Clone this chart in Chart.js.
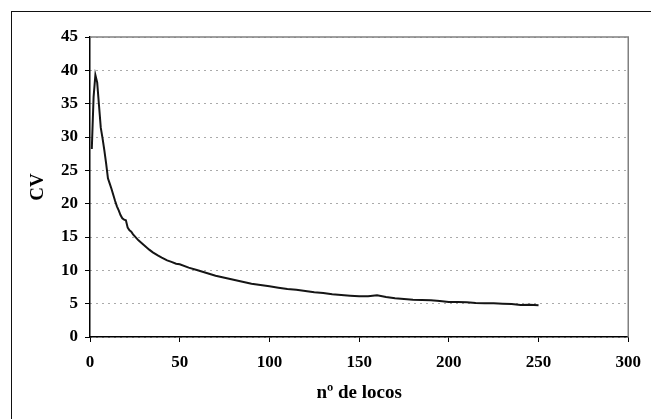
<!DOCTYPE html>
<html>
<head>
<meta charset="utf-8">
<script src="https://cdn.jsdelivr.net/npm/chart.js@4/dist/chart.umd.min.js"></script>
<style>
  body { margin: 0; background: #fff; }
  #wrap { position: relative; width: 651px; height: 419px; overflow: hidden; }
  #frame { position: absolute; left: 11px; top: 11px; width: 700px; height: 500px;
           border-left: 1.5px solid #111; border-top: 1.5px solid #111; }
  #grafico { position: absolute; left: 0; top: 0; }
</style>
</head>
<body>
<div id="wrap">
  <div id="frame"></div>
  <canvas id="grafico" width="651" height="419"></canvas>
</div>
<script>
// nº de locos (eje x) y coeficiente de variación (eje y)
var locos = [1, 2, 3, 4, 5, 6, 7, 8, 9, 10, 11, 12, 13, 14, 15, 16, 17, 18, 19, 20,
             21, 22, 23, 24, 25, 27, 30, 33, 35, 38, 40, 43, 45, 48, 50, 55, 60, 65, 70, 75,
             80, 85, 90, 95, 100, 105, 110, 115, 120, 125, 130, 135, 140, 145, 150, 155, 160, 165, 170, 175,
             180, 185, 190, 195, 200, 205, 210, 215, 220, 225, 230, 235, 240, 245, 250];
var cv = [28.2, 36.0, 39.3, 38.2, 34.8, 31.4, 29.8, 28.0, 26.0, 23.8, 23.0, 22.2, 21.3, 20.4, 19.6, 19.0, 18.3, 17.8, 17.6, 17.5,
          16.4, 16.0, 15.8, 15.4, 15.1, 14.5, 13.8, 13.1, 12.7, 12.2, 11.9, 11.5, 11.3, 11.0, 10.9, 10.4, 10.0, 9.6, 9.2, 8.9,
          8.6, 8.3, 8.0, 7.8, 7.6, 7.4, 7.2, 7.1, 6.9, 6.7, 6.6, 6.4, 6.3, 6.2, 6.1, 6.1, 6.25, 6.0, 5.8, 5.7,
          5.6, 5.55, 5.5, 5.4, 5.25, 5.25, 5.2, 5.1, 5.05, 5.05, 5.0, 4.95, 4.8, 4.85, 4.75];
var ejeX = { min: 0, max: 300, paso: 50 };
var ejeY = { min: 0, max: 45, paso: 5 };

var puntos = [];
for (var i = 0; i < locos.length; i++) {
    puntos.push({ x: locos[i], y: cv[i] });
}

// borde gris arriba y a la derecha del área de trazado
var bordeArea = {
    id: 'bordeArea',
    afterDraw: function (chart) {
        var a = chart.chartArea, ctx = chart.ctx;
        ctx.save();
        ctx.strokeStyle = '#808080';
        ctx.lineWidth = 1.5;
        ctx.beginPath();
        ctx.moveTo(a.left, a.top);
        ctx.lineTo(a.right, a.top);
        ctx.lineTo(a.right, a.bottom);
        ctx.stroke();
        ctx.restore();
    }
};

var fuente = 'Liberation Serif';
var ctx = document.getElementById('grafico').getContext('2d');
new Chart(ctx, {
    type: 'line',
    data: {
        datasets: [{
            data: puntos,
            borderColor: '#151515',
            borderWidth: 2,
            pointRadius: 0,
            tension: 0,
            fill: false
        }]
    },
    options: {
        responsive: false,
        animation: false,
        devicePixelRatio: 1,
        layout: { padding: { left: 0, top: 37, right: 20, bottom: 0 } },
        plugins: { legend: { display: false }, tooltip: { enabled: false } },
        scales: {
            x: {
                type: 'linear',
                min: ejeX.min,
                max: ejeX.max,
                afterFit: function (s) { s.height = 82; },
                ticks: { stepSize: ejeX.paso, color: '#000', padding: 10,
                         font: { family: fuente, size: 17, weight: 'bold' } },
                grid: { drawOnChartArea: false, tickLength: 5, color: '#000', tickColor: '#000' },
                border: { color: '#000', width: 1.5 },
                title: { display: true, text: 'nº de locos', color: '#000',
                         padding: { top: 0, bottom: 15 },
                         font: { family: fuente, size: 19, weight: 'bold' } }
            },
            y: {
                min: ejeY.min,
                max: ejeY.max,
                afterFit: function (s) { s.width = 90; },
                ticks: { stepSize: ejeY.paso, color: '#000', padding: 7,
                         font: { family: fuente, size: 17, weight: 'bold' } },
                grid: { color: '#555', lineWidth: 1, tickLength: 5, tickColor: '#000' },
                border: { color: '#000', width: 1.5, dash: [1, 5] },
                title: { display: true, text: 'CV', color: '#000',
                         padding: { top: 27, bottom: 0 },
                         font: { family: fuente, size: 19, weight: 'bold' } }
            }
        }
    },
    plugins: [bordeArea]
});
</script>
</body>
</html>
